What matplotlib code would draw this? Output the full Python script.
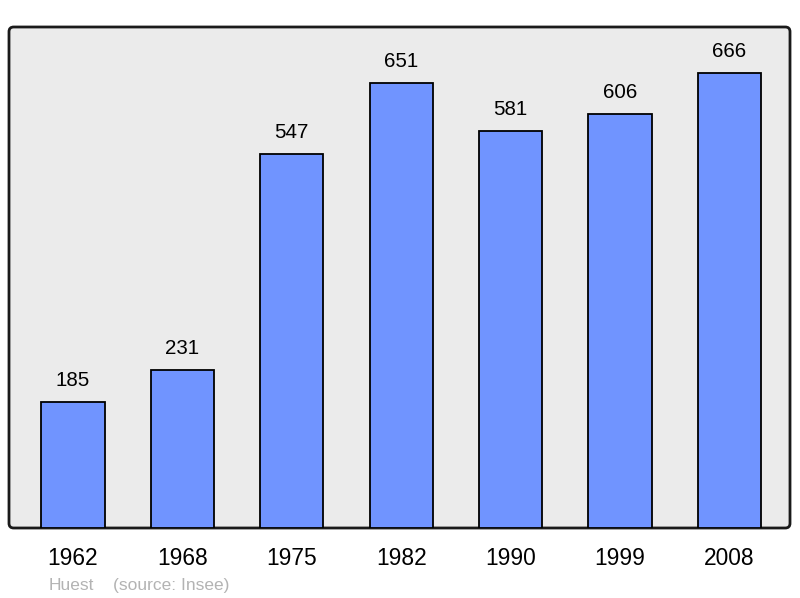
import matplotlib.pyplot as plt
from matplotlib.patches import FancyBboxPatch

plt.rcParams['font.family'] = ['Liberation Sans', 'DejaVu Sans']

# donnees
annees = ['1962', '1968', '1975', '1982', '1990', '1999', '2008']
population = [185, 231, 547, 651, 581, 606, 666]

fig = plt.figure(figsize=(8, 5.98), dpi=100)
ax = fig.add_axes([9 / 800, 70 / 598, 781 / 800, 501 / 598])
ax.set_facecolor('none')
for s in ax.spines.values():
    s.set_visible(False)

# fond gris aux coins arrondis
asp = (781 * 1.0) / 501
fond = FancyBboxPatch((0, 0), 1, 1, boxstyle='round,pad=0,rounding_size=0.006',
                      mutation_aspect=asp, transform=ax.transAxes,
                      facecolor='#ebebeb', edgecolor='#1a1a1a', linewidth=2,
                      zorder=0, clip_on=False)
ax.add_patch(fond)

x = range(len(annees))
ax.bar(x, population, width=0.576, color='#7094ff', edgecolor='black',
       linewidth=1.3, zorder=2)

for i, v in enumerate(population):
    ax.annotate(str(v), (i, v), xytext=(0, 15.5), textcoords='offset points',
                ha='center', va='center', fontsize=14.8, color='black')

ax.set_xlim(-0.585, 6.554)
ax.set_ylim(0, 733.5)
ax.set_yticks([])
ax.set_xticks(list(x))
ax.set_xticklabels(annees, fontsize=16.4)
ax.tick_params(axis='x', length=0, pad=14)

fig.text(49 / 800, 1 - 590 / 598, 'Huest', fontsize=12.5, color='#b3b3b3',
         va='baseline', ha='left')
fig.text(113 / 800, 1 - 590 / 598, '(source: Insee)', fontsize=12.5,
         color='#b3b3b3', va='baseline', ha='left')

fig.savefig('out.png', dpi=100)
